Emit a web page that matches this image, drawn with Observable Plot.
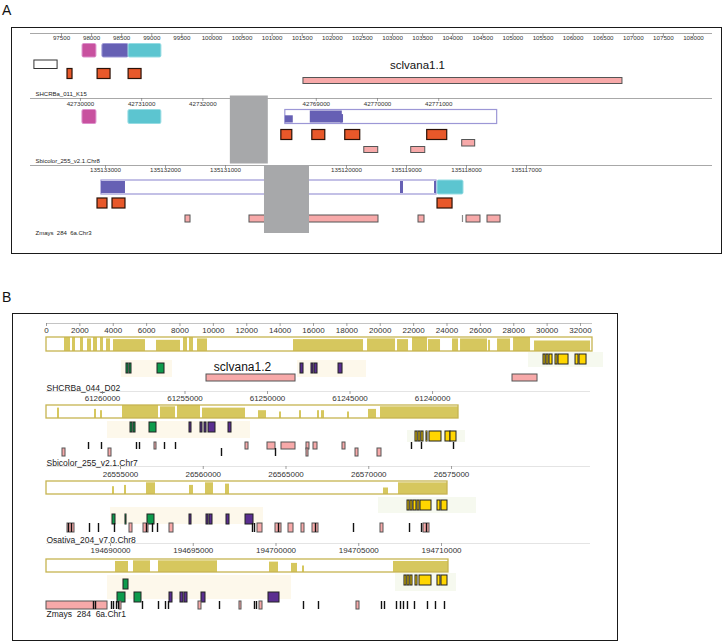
<!DOCTYPE html>
<html>
<head>
<meta charset="utf-8">
<script src="https://cdn.jsdelivr.net/npm/d3@7"></script>
<script src="https://cdn.jsdelivr.net/npm/@observablehq/plot@0.6"></script>
<style>
  body { margin: 0; background: #fff; }
  #page { position: relative; width: 728px; height: 644px; overflow: hidden; font-family: "Liberation Sans", Arial, Helvetica, sans-serif; }
  .box { position: absolute; border: 1.6px solid #1a1a1a; box-sizing: border-box; }
  .plabel { position: absolute; font-size: 14px; color: #111; }
</style>
</head>
<body>
<div id="page">
  <div class="plabel" style="left:2px;top:2px;">A</div>
  <div class="box" style="left:11px;top:27px;width:711px;height:227px;"></div>
  <div class="plabel" style="left:2px;top:289px;">B</div>
  <div class="box" style="left:12px;top:313px;width:606px;height:328px;"></div>
</div>
<script>
// ===================== DATA =====================
// ---- Panel A, track 1 ----
const a1Name = "SHCRBa_011_K15";
const a1Ticks = [97500, 98000, 98500, 99000, 99500, 100000, 100500, 101000, 101500, 102000, 102500, 103000, 103500, 104000, 104500, 105000, 105500, 106000, 106500, 107000, 107500, 108000];
const a1Hsps = [[97850, 98080, "magenta"], [98180, 98615, "blue"], [98615, 99160, "cyan"]];
const a1Outline = [[97050, 97435]];
const a1Exons = [[97600, 97683], [98100, 98315], [98615, 98830]];
const a1Genes = [[101520, 106820]];
const a1GeneLabel = [[103415, "sclvana1.1"]];

// ---- Panel A, track 2 (axis broken by a gap) ----
const a2Name = "Sbicolor_255_v2.1.Chr8";
const a2Ticks = [42730000, 42731000, 42732000, 42769000, 42770000, 42771000];
const a2Gap = [[42732449, 42768216]];
const a2Hsps = [[42730033, 42730261, "magenta"], [42730784, 42731322, "cyan"]];
const a2Outline = [[42768494, 42771955]];
const a2OutlineFill = [[42768494, 42768624, 0.6], [42768902, 42769425, 1], [42769400, 42769445, 0.7]];
const a2Exons = [[42768429, 42768608], [42768935, 42769147], [42769473, 42769718], [42770812, 42771139]];
const a2GenesHi = [[42771384, 42771596]];
const a2GenesLo = [[42769784, 42770012], [42770551, 42770780]];

// ---- Panel A, track 3 (reversed, axis broken by a gap) ----
const a3Name = "Zmays  284  6a.Chr3";
const a3Ticks = [135133000, 135132000, 135131000, 135120000, 135119000, 135118000, 135117000];
const a3Gap = [[135130350, 135120617]];
const a3Hsps = [[135118483, 135118050, "cyan"]];
const a3Outline = [[135133067, 135118500]];
const a3OutlineFill = [[135133067, 135132667, 1], [135119100, 135119050, 1], [135118533, 135118500, 1]];
const a3Exons = [[135133133, 135132967], [135132883, 135132667], [135118483, 135118233]];
const a3Genes = [[135131667, 135131583], [135130600, 135119467], [135118800, 135118700], [135118000, 135117767], [135117650, 135117433]];
const a3Marks = [135118067];

// ---- Panel B, track 1 ----
const b1Name = "SHCRBa_044_D02";
const b1Ticks = [0, 2000, 4000, 6000, 8000, 10000, 12000, 14000, 16000, 18000, 20000, 22000, 24000, 26000, 28000, 30000, 32000];
const b1Span = [[0, 32720]];
const b1Coverage = [[1079, 1438, 1], [1558, 1738, 1], [2038, 2217, 1], [2457, 2697, 0.9], [2817, 3056, 1], [3236, 3416, 1], [3596, 3836, 0.9], [4015, 5933, 0.85], [6592, 8031, 0.8], [8210, 8450, 1], [8570, 8810, 1], [9049, 9649, 0.9], [14803, 18998, 0.85], [19238, 20916, 0.9], [21035, 21695, 0.85], [21934, 22833, 1], [22893, 23612, 0.85], [24332, 24691, 0.9], [24811, 26429, 0.9], [26489, 26609, 0.8], [27029, 27808, 0.9], [27988, 29006, 1], [29246, 32602, 0.75]];
const b1Bands = [[4495, 7551], [15042, 19178]];
const b1BandsY = [[28886, 33381]];
const b1Green = [[4794, 4914], [4974, 5094], [6652, 7072]];
const b1Purple = [[15222, 15402], [15881, 16001], [16061, 16241], [17500, 17740]];
const b1Yellow = [[29785, 29905], [29965, 30085], [30145, 30325], [30504, 30624], [30684, 31283], [31703, 31883], [31943, 32362]];
const b1Genes = [[9589, 14923], [27927, 29425]];
const b1GeneLabel = [[11746, "sclvana1.2"]];

// ---- Panel B, track 2 ----
const b2Name = "Sbicolor_255_v2.1.Chr7";
const b2Ticks = [61260000, 61255000, 61250000, 61245000, 61240000];
const b2Span = [[61263394, 61238426]];
const b2Coverage = [[61262727, 61262606, 0.8], [61260485, 61260364, 0.7], [61260121, 61260000, 0.6], [61258788, 61256606, 1], [61256485, 61255576, 0.9], [61255455, 61254061, 1], [61253940, 61251334, 0.8], [61250546, 61250062, 0.6], [61249273, 61249152, 0.5], [61248061, 61247941, 0.6], [61246971, 61246850, 0.6], [61246729, 61246547, 0.6], [61245153, 61245032, 0.5], [61243880, 61243395, 0.7], [61243153, 61238426, 0.9]];
const b2Bands = [[61259697, 61251031]];
const b2BandsY = [[61241517, 61238002]];
const b2Green = [[61258303, 61258182], [61258121, 61258000], [61257152, 61256728]];
const b2Purple = [[61254728, 61254607], [61254061, 61253940], [61253818, 61253697], [61253576, 61253152], [61252364, 61252183]];
const b2Yellow = [[61241032, 61240911], [61240850, 61240729], [61240669, 61240547], [61240366, 61240305], [61240184, 61239457], [61239215, 61238911], [61238911, 61238548]];
const b2GenesRow1 = [[61256849, 61256728], [61251334, 61251152], [61250001, 61249516], [61249153, 61248304], [61247638, 61247456], [61247213, 61246971], [61245456, 61245274]];
const b2GenesRow2 = [[61262424, 61262242], [61259636, 61259455], [61247638, 61247516], [61244667, 61244486], [61243335, 61243093]];
const b2MarksRow1 = [61260848, 61260061, 61257940, 61257758, 61256243, 61255576, 61241275, 61240669, 61238729];
const b2MarksRow2 = [61252789, 61249516];

// ---- Panel B, track 3 ----
const b3Name = "Osativa_204_v7.0.Chr8";
const b3Ticks = [26555000, 26560000, 26565000, 26570000, 26575000];
const b3Span = [[26550529, 26574757]];
const b3Coverage = [[26554517, 26554637, 0.6], [26555242, 26555363, 0.7], [26556571, 26557115, 0.9], [26559169, 26559411, 0.7], [26560136, 26560619, 0.9], [26561344, 26561586, 0.8], [26570890, 26571193, 0.5], [26571797, 26574757, 0.9]];
const b3Bands = [[26554396, 26563640]];
const b3BandsY = [[26570588, 26576510]];
const b3Green = [[26554517, 26554698], [26555302, 26555363], [26556631, 26557054]];
const b3Purple = [[26559169, 26559290], [26560196, 26560317], [26560377, 26560559], [26561405, 26561586], [26562553, 26563036]];
const b3Yellow = [[26572341, 26572462], [26572522, 26572643], [26572703, 26572884], [26572944, 26573065], [26573126, 26573791], [26574153, 26574334], [26574395, 26574757]];
const b3Genes = [[26551798, 26552221], [26555544, 26555725], [26556390, 26556692], [26557961, 26558202], [26563278, 26563580], [26564365, 26564728], [26565151, 26565453], [26565936, 26566117], [26566601, 26566963], [26570709, 26570890], [26573307, 26573670]];
const b3Marks = [26551858, 26552039, 26553127, 26553671, 26554637, 26556571, 26556933, 26557236, 26562975, 26563096, 26564546, 26566782, 26569078, 26572462, 26573187, 26573489];

// ---- Panel B, track 4 ----
const b4Name = "Zmays  284  6a.Chr1";
const b4Ticks = [194690000, 194695000, 194700000, 194705000, 194710000];
const b4Span = [[194686133, 194710422]];
const b4Coverage = [[194690302, 194691088, 0.85], [194691390, 194692417, 0.9], [194692900, 194696465, 0.9], [194699607, 194700151, 0.8], [194700936, 194701299, 0.7], [194701601, 194701722, 0.5], [194707099, 194710422, 0.85]];
const b4Bands = [[194689819, 194700936]];
const b4BandsY = [[194707220, 194710905]];
const b4GreenHi = [[194690785, 194691088]];
const b4Green = [[194690423, 194690906], [194691450, 194691873]];
const b4Purple = [[194693565, 194693746], [194694229, 194694411], [194694471, 194694652], [194695498, 194695740], [194699546, 194700211]];
const b4Yellow = [[194707763, 194707884], [194707944, 194708065], [194708126, 194708247], [194708428, 194708549], [194708670, 194709395], [194709757, 194709939], [194709999, 194710362]];
const b4Genes = [[194686133, 194689819], [194690544, 194690665], [194695317, 194695498], [194697794, 194697915], [194699002, 194699184], [194704863, 194705045]];
const b4Marks = [194688973, 194689094, 194690060, 194690181, 194690363, 194690483, 194691933, 194692900, 194693323, 194693504, 194696586, 194698700, 194698821, 194701661, 194702567, 194706374, 194706555, 194707280, 194707522, 194707703, 194707944, 194708367, 194709153, 194709636, 194710180];

// ===================== STYLE =====================
const FONT = '"Liberation Sans", Arial, Helvetica, sans-serif';
const hspFill = {magenta: "#c8519f", blue: "#6660b4", cyan: "#5cc5d0"};
const hspStroke = {magenta: "#dc8fcb", blue: "#9d98d6", cyan: "#95dce3"};
const C = {
  orange: "#e8582a", orangeStroke: "#2a1208",
  pink: "#f7a9a9", pinkStroke: "#555",
  gap: "#a7a8aa",
  outline: "#9c97d6", hsp: "#6660b4",
  cov: "#d6c75e", covStroke: "#c6b451",
  green: "#0d9b4c", purple: "#5a2e90", yellow: "#ffd600", exonStroke: "#222",
  band: "#fdf8eb", bandY: "#f6f9ef"
};

// ===================== HELPERS =====================
// F: per-track coordinate transform that collapses an axis gap (identity otherwise)
let F = d => d;
const collapse = (gapStart, gapEnd, shownBp) => {
  const asc = gapEnd > gapStart;
  return asc
    ? g => (g <= gapStart ? g : g - (gapEnd - gapStart) + shownBp)
    : g => (g >= gapStart ? g : g + (gapStart - gapEnd) - shownBp);
};

const page = document.getElementById("page");
function place(node, top) {
  const d = document.createElement("div");
  d.style.cssText = `position:absolute;left:0;top:${top}px;`;
  d.appendChild(node);
  page.appendChild(d);
}
const R = (data, lane, fill, stroke = "none", sw = 1, extra = {}) =>
  Plot.rect(data, {x1: d => F(d[0]), x2: d => F(d[1]), y1: lane[0], y2: lane[1], fill, stroke, strokeWidth: sw, ...extra});
const T = (data, lane, stroke = "#111", sw = 1.4) =>
  Plot.ruleX(data, {x: d => F(d), y1: lane[0], y2: lane[1], stroke, strokeWidth: sw});
const COV = (data, span, lane) => [
  Plot.rect(data, {x1: d => F(d[0]), x2: d => F(d[1]), y1: d => lane[1] - d[2] * (lane[1] - lane[0]), y2: lane[1], fill: C.cov}),
  R(span, lane, "none", C.covStroke, 1.3)
];
const FILLPART = (data, lane) =>
  Plot.rect(data, {x1: d => F(d[0]), x2: d => F(d[1]), y1: d => lane[1] - d[2] * (lane[1] - lane[0]), y2: lane[1], fill: C.hsp});
const hspMarks = (data, lane) => Plot.rect(data, {
  x1: d => F(d[0]), x2: d => F(d[1]), y1: lane[0], y2: lane[1],
  fill: d => hspFill[d[2]], stroke: d => hspStroke[d[2]], strokeWidth: 1, rx: 1.5
});

function track(cfg) {
  const {axisY, above = 8, below = 80, domain, range, ticks, tickY, tickFont, axisColor,
         name, nameY, nameFont, marks} = cfg;
  F = cfg.f || (d => d);
  const h = above + below;
  const first = domain[0], last = domain[domain.length - 1];
  const chart = Plot.plot({
    width: 728, height: h,
    marginTop: 0, marginRight: 0, marginBottom: 0, marginLeft: 0,
    x: {domain: [F(first), F(last)], range, axis: null},
    y: {domain: [-above, below], range: [0, h], axis: null},
    style: {background: "transparent", fontFamily: FONT, overflow: "visible"},
    marks: [
      Plot.ruleY([0], {x1: () => F(first), x2: () => F(last), y: d => d, stroke: axisColor, strokeWidth: 1}),
      Plot.ruleX(ticks, {x: d => F(d), y1: 0, y2: 3, stroke: "#777", strokeWidth: 0.7}),
      Plot.text(ticks, {x: d => F(d), y: tickY, text: d => String(d), fontSize: tickFont, fill: "#333"}),
      ...marks,
      Plot.text([name], {x: () => F(first), y: nameY, text: d => d, textAnchor: "start", dx: cfg.nameDx || 0, fontSize: nameFont, fill: "#222"})
    ]
  });
  place(chart, axisY - above);
}

// ===================== PANEL A =====================
{
  const L = {hsp: [10.5, 24], outline: [27, 35.5], exon: [35.5, 45.5], gene: [44.5, 50.5]};
  track({
    axisY: 32.5, above: 6, below: 66,
    domain: [96985, 108316], range: [30, 712],
    ticks: a1Ticks, tickY: 4.8, tickFont: 6.2, axisColor: "#a8a8a8",
    name: a1Name, nameY: 61, nameFont: 6, nameDx: 5,
    marks: [
      hspMarks(a1Hsps, L.hsp),
      R(a1Outline, L.outline, "white", "#333", 1),
      R(a1Exons, L.exon, C.orange, C.orangeStroke, 1.2),
      R(a1Genes, L.gene, C.pink, C.pinkStroke, 1),
      Plot.text(a1GeneLabel, {x: d => F(d[0]), y: 31.5, text: d => d[1], fontSize: 11.5, fill: "#111"})
    ]
  });
}
{
  const L = {hsp: [11.5, 25.5], exon: [31.5, 41.5], hi: [41.5, 48], lo: [48.5, 54.5], gap: [-2.5, 65.5]};
  track({
    axisY: 97.5, above: 6, below: 70,
    f: collapse(a2Gap[0][0], a2Gap[0][1], 620),
    domain: [42729184, 42775473], range: [30, 712],
    ticks: a2Ticks, tickY: 5.5, tickFont: 6.2, axisColor: "#a8a8a8",
    name: a2Name, nameY: 63, nameFont: 6, nameDx: 5,
    marks: [
      hspMarks(a2Hsps, L.hsp),
      R(a2Outline, L.hsp, "white", C.outline, 1.2),
      FILLPART(a2OutlineFill, [12.5, 24.5]),
      R(a2Exons, L.exon, C.orange, C.orangeStroke, 1.2),
      R(a2GenesHi, L.hi, C.pink, C.pinkStroke, 1),
      R(a2GenesLo, L.lo, C.pink, C.pinkStroke, 1),
      Plot.rect(a2Gap, {x1: d => F(d[0]), x2: d => F(d[1]) , y1: L.gap[0], y2: L.gap[1], fill: C.gap})
    ]
  });
}
{
  const L = {hsp: [15, 29], exon: [33, 43], gene: [50, 57], gap: [0, 68]};
  track({
    axisY: 165, above: 6, below: 72,
    f: collapse(a3Gap[0][0], a3Gap[0][1], 750),
    domain: [135134250, 135113900], range: [30, 712],
    ticks: a3Ticks, tickY: 5, tickFont: 6.2, axisColor: "#a8a8a8",
    name: a3Name, nameY: 68, nameFont: 6, nameDx: 5,
    marks: [
      R(a3Outline, L.hsp, "white", C.outline, 1.2),
      FILLPART(a3OutlineFill, [16, 28]),
      hspMarks(a3Hsps, L.hsp),
      R(a3Exons, L.exon, C.orange, C.orangeStroke, 1.2),
      R(a3Genes, L.gene, C.pink, C.pinkStroke, 1),
      T(a3Marks, L.gene, "#888", 1.2),
      R(a3Gap, L.gap, C.gap)
    ]
  });
}

// ===================== PANEL B =====================
{
  const L = {cov: [14, 28], band: [37, 54], exon: [40, 50], bandY: [29, 44], exonY: [31, 41], gene: [51, 58]};
  track({
    axisY: 323, above: 6, below: 72,
    domain: [0, 32720], range: [46, 592],
    ticks: b1Ticks, tickY: 6.5, tickFont: 8, axisColor: "#c4c4c4",
    name: b1Name, nameY: 65, nameFont: 8.5,
    marks: [
      R(b1Bands, L.band, C.band),
      R(b1BandsY, L.bandY, C.bandY),
      ...COV(b1Coverage, b1Span, L.cov),
      R(b1Green, L.exon, C.green, C.exonStroke, 1),
      R(b1Purple, L.exon, C.purple, C.exonStroke, 1),
      R(b1Yellow, L.exonY, C.yellow, C.exonStroke, 1),
      R(b1Genes, L.gene, C.pink, C.pinkStroke, 1),
      Plot.text(b1GeneLabel, {x: d => F(d[0]), y: 44, text: d => d[1], fontSize: 12, fill: "#111"})
    ]
  });
}
{
  const L = {cov: [14, 27], band: [30, 47], exon: [31, 41], bandY: [39, 51], exonY: [40, 50], row1: [51, 58], row2: [57, 65]};
  track({
    axisY: 391, above: 6, below: 78,
    domain: [61263394, 61230427], range: [46, 590],
    ticks: b2Ticks, tickY: 7, tickFont: 8, axisColor: "#e4e4e4",
    name: b2Name, nameY: 72, nameFont: 8.5,
    marks: [
      R(b2Bands, L.band, C.band),
      R(b2BandsY, L.bandY, C.bandY),
      ...COV(b2Coverage, b2Span, L.cov),
      R(b2Green, L.exon, C.green, C.exonStroke, 1),
      R(b2Purple, L.exon, C.purple, C.exonStroke, 1),
      R(b2Yellow, L.exonY, C.yellow, C.exonStroke, 1),
      R(b2GenesRow1, L.row1, C.pink, C.pinkStroke, 1),
      R(b2GenesRow2, L.row2, C.pink, C.pinkStroke, 1),
      T(b2MarksRow1, L.row1),
      T(b2MarksRow2, L.row2)
    ]
  });
}
{
  const L = {cov: [15, 28], bandY: [31, 47], exonY: [34, 44], band: [41, 58], exon: [48, 58], row: [57, 66]};
  track({
    axisY: 466, above: 6, below: 80,
    domain: [26550529, 26583397], range: [46, 590],
    ticks: b3Ticks, tickY: 7.5, tickFont: 8, axisColor: "#e4e4e4",
    name: b3Name, nameY: 74, nameFont: 8.5,
    marks: [
      R(b3Bands, L.band, C.band),
      R(b3BandsY, L.bandY, C.bandY),
      ...COV(b3Coverage, b3Span, L.cov),
      R(b3Green, L.exon, C.green, C.exonStroke, 1),
      R(b3Purple, L.exon, C.purple, C.exonStroke, 1),
      R(b3Yellow, L.exonY, C.yellow, C.exonStroke, 1),
      R(b3Genes, L.row, C.pink, C.pinkStroke, 1),
      T(b3Marks, L.row)
    ]
  });
}
{
  const L = {cov: [16, 29], band: [32, 56], greenHi: [36, 46], exon: [49, 59], bandY: [30, 48], exonY: [32, 42], row: [58, 66]};
  track({
    axisY: 543, above: 6, below: 80,
    domain: [194686133, 194719002], range: [46, 590],
    ticks: b4Ticks, tickY: 7, tickFont: 8, axisColor: "#e4e4e4",
    name: b4Name, nameY: 71, nameFont: 8.5,
    marks: [
      R(b4Bands, L.band, C.band),
      R(b4BandsY, L.bandY, C.bandY),
      ...COV(b4Coverage, b4Span, L.cov),
      R(b4GreenHi, L.greenHi, C.green, C.exonStroke, 1),
      R(b4Green, L.exon, C.green, C.exonStroke, 1),
      R(b4Purple, L.exon, C.purple, C.exonStroke, 1),
      R(b4Yellow, L.exonY, C.yellow, C.exonStroke, 1),
      R(b4Genes, L.row, C.pink, C.pinkStroke, 1),
      T(b4Marks, L.row)
    ]
  });
}
</script>
</body>
</html>
